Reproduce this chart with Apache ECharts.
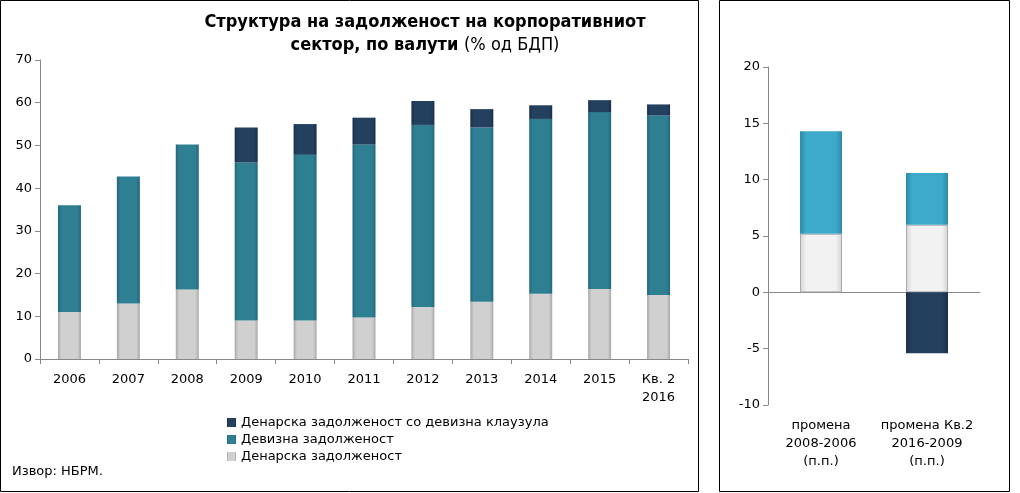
<!DOCTYPE html>
<html><head><meta charset="utf-8">
<script src="https://cdn.jsdelivr.net/npm/echarts@6/dist/echarts.min.js"></script>
<style>html,body{margin:0;padding:0;background:#fff}#c{width:1020px;height:493px}</style>
</head><body><div id="c"></div>
<script>
const categories = ['2006','2007','2008','2009','2010','2011','2012','2013','2014','2015','Кв. 2\n2016'];
const denarDebt = [11, 13, 16.3, 9, 9, 9.7, 12.2, 13.4, 15.3, 16.4, 15];
const fxDebt = [25, 29.7, 33.9, 37, 38.8, 40.5, 42.6, 40.8, 40.9, 41.4, 42];
const clauseDebt = [0, 0, 0, 8.2, 7.2, 6.3, 5.6, 4.3, 3.2, 2.8, 2.6];
const changeCats = ['промена\n2008-2006\n(п.п.)', 'промена Кв.2\n2016-2009\n(п.п.)'];
const changeDenar = [5.2, 6];
const changeFx = [9.1, 4.6];
const changeClause = [0, -5.4];
const names = ['Денарска задолженост со девизна клаузула','Девизна задолженост','Денарска задолженост'];

function grad(c1,c2){return new echarts.graphic.LinearGradient(0,0,1,0,[{offset:0,color:c2},{offset:0.15,color:c1},{offset:0.85,color:c1},{offset:1,color:c2}]);}
const gray = grad('#d0d0d0','#a8a8a8'), teal = grad('#2f7f92','#23677a'), dark = grad('#24405f','#1a2f48');
const lteal = grad('#3eaacb','#2c8aa8'), white = grad('#f2f2f2','#d4d4d4');
const F = 'DejaVu Sans';
const axL = {color:'#000', fontFamily:F, fontSize:13};
const chart = echarts.init(document.getElementById('c'));
chart.setOption({
  animation:false,
  textStyle:{fontFamily:F},
  title:{text:'{b|Структура на задолженост на корпоративниот}\n{b|сектор, по валути} {n|(% од БДП)}', left:420, top:6, textAlign:'center',
    textStyle:{fontWeight:'normal',rich:{b:{fontFamily:'DejaVu Sans Condensed',fontWeight:'bold',fontSize:18,color:'#000',lineHeight:23},n:{fontFamily:'DejaVu Sans Condensed',fontWeight:'normal',fontSize:18,color:'#000',lineHeight:23}}}},
  graphic:[
    {type:'rect',shape:{x:0.5,y:0.5,width:698,height:491},style:{fill:'none',stroke:'#000',lineWidth:1}},
    {type:'rect',shape:{x:719.5,y:0.5,width:290,height:491},style:{fill:'none',stroke:'#000',lineWidth:1}},
    {type:'text',left:12,top:465,style:{text:'Извор: НБРМ.',font:'13px DejaVu Sans',fill:'#000'}}
  ],
  legend:{data:names, orient:'vertical', left:222, top:411, itemWidth:9, itemHeight:9, itemGap:4, icon:'rect',
    textStyle:{fontFamily:F,fontSize:13,color:'#000'}},
  grid:[{left:40,top:60,width:648,height:299},{left:768,top:67,width:212,height:338}],
  xAxis:[
    {type:'category',gridIndex:0,data:categories,axisLine:{lineStyle:{color:'#888'}},axisTick:{show:true,lineStyle:{color:'#888'}},axisLabel:{...axL,margin:12,lineHeight:18,interval:0}},
    {type:'category',gridIndex:1,data:changeCats,position:'bottom',axisLine:{onZero:true,lineStyle:{color:'#888'}},axisTick:{lineStyle:{color:'#888'}},axisLabel:{...axL,lineHeight:18,margin:12,interval:0}}
  ],
  yAxis:[
    {type:'value',gridIndex:0,min:0,max:70,interval:10,splitLine:{show:false},axisLine:{show:true,lineStyle:{color:'#888'}},axisTick:{show:true,lineStyle:{color:'#888'}},axisLabel:axL},
    {type:'value',gridIndex:1,min:-10,max:20,interval:5,splitLine:{show:false},axisLine:{show:true,lineStyle:{color:'#888'}},axisTick:{show:true,lineStyle:{color:'#888'}},axisLabel:axL}
  ],
  series:[
    {name:names[2],type:'bar',stack:'a',barWidth:23,data:denarDebt,itemStyle:{color:gray}},
    {name:names[1],type:'bar',stack:'a',data:fxDebt,itemStyle:{color:teal}},
    {name:names[0],type:'bar',stack:'a',data:clauseDebt,itemStyle:{color:dark}},
    {name:'r1',type:'bar',stack:'b',xAxisIndex:1,yAxisIndex:1,barWidth:42,data:changeDenar,itemStyle:{color:white,borderColor:'#aaa',borderWidth:1}},
    {name:'r2',type:'bar',stack:'b',xAxisIndex:1,yAxisIndex:1,data:changeFx,itemStyle:{color:lteal}},
    {name:'r3',type:'bar',stack:'b',xAxisIndex:1,yAxisIndex:1,data:changeClause,itemStyle:{color:dark}}
  ]
});
</script></body></html>
